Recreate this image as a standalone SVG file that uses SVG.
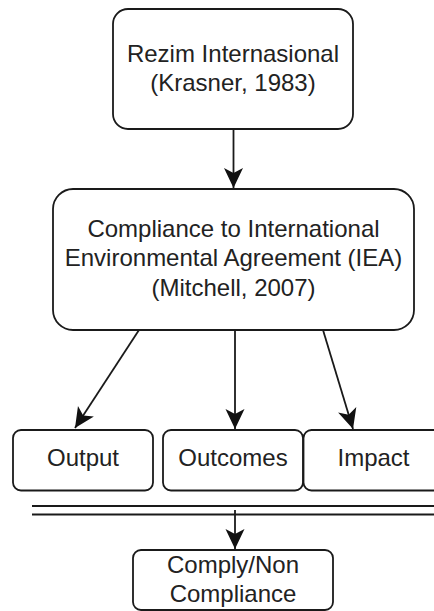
<svg xmlns="http://www.w3.org/2000/svg" width="434" height="611" viewBox="0 0 434 611">
<style>
.box{fill:#fff;stroke:#1a1a1a;stroke-width:1.8}
.t{font-family:"Liberation Sans",Arial,sans-serif;font-size:24px;fill:#222;text-anchor:middle}
.ln{stroke:#1a1a1a;stroke-width:1.8;fill:none}
</style>
<defs>
<marker id="ah" markerUnits="userSpaceOnUse" markerWidth="22" markerHeight="22" viewBox="-21 -11 22 22" refX="0" refY="0" orient="auto">
<path d="M0,0 L-20,-9.5 L-15,0 L-20,9.5 Z" fill="#111"/>
</marker>
</defs>
<rect width="434" height="611" fill="#fff"/>
<g id="connectors">
<line class="ln" x1="233.5" y1="129" x2="233.5" y2="188" marker-end="url(#ah)"/>
<line class="ln" x1="139" y1="330" x2="75" y2="428" marker-end="url(#ah)"/>
<line class="ln" x1="235" y1="330" x2="235" y2="429" marker-end="url(#ah)"/>
<line class="ln" x1="323" y1="330" x2="353" y2="429" marker-end="url(#ah)"/>
<line class="ln" x1="32" y1="506" x2="434" y2="506"/>
<line class="ln" x1="32" y1="514.5" x2="434" y2="514.5"/>
<line class="ln" x1="235" y1="510" x2="235" y2="549" marker-end="url(#ah)"/>
</g>
<g id="rezim">
<rect class="box" x="113" y="9" width="240" height="120" rx="15"/>
<text class="t" x="233" y="62">Rezim Internasional</text>
<text class="t" x="233" y="91">(Krasner, 1983)</text>
</g>
<g id="compliance">
<rect class="box" x="53" y="189" width="361" height="141" rx="20"/>
<text class="t" x="233.5" y="237">Compliance to International</text>
<text class="t" x="233.5" y="266">Environmental Agreement (IEA)</text>
<text class="t" x="233.5" y="296">(Mitchell, 2007)</text>
</g>
<g id="output">
<rect class="box" x="13" y="430" width="140" height="60.5" rx="8"/>
<text class="t" x="83" y="466">Output</text>
</g>
<g id="outcomes">
<rect class="box" x="163" y="430" width="140" height="60.5" rx="8"/>
<text class="t" x="233" y="466">Outcomes</text>
</g>
<g id="impact">
<rect class="box" x="303.5" y="430" width="140" height="60.5" rx="8"/>
<text class="t" x="373.5" y="466">Impact</text>
</g>
<g id="comply">
<rect class="box" x="133" y="550" width="200" height="60" rx="8"/>
<text class="t" x="233" y="573">Comply/Non</text>
<text class="t" x="233" y="602">Compliance</text>
</g>
</svg>
